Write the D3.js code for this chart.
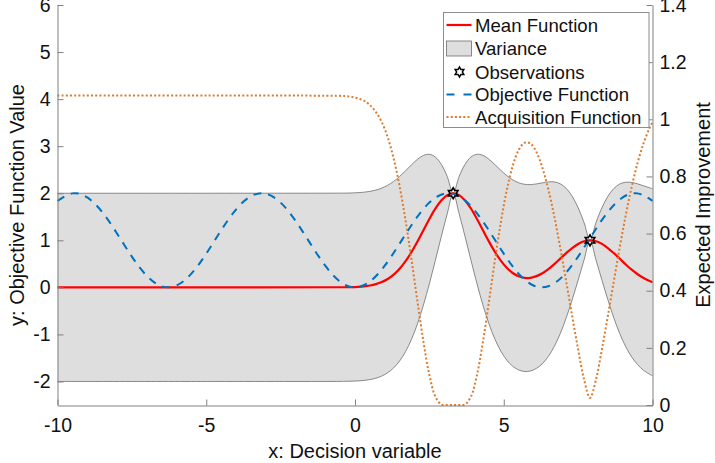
<!DOCTYPE html>
<html>
<head>
<meta charset="utf-8">
<script src="https://cdn.jsdelivr.net/npm/d3@7"></script>
<style>
  body { margin: 0; background: #fff; }
  svg text { font-family: "Liberation Sans", Arial, Helvetica, sans-serif; fill: #111; }
</style>
</head>
<body>
<div id="chart"></div>
<script>
// DATA
// objective function (blue dashed)
var objX = [-10, -9.5, -9, -8.5, -8, -7.5, -7, -6.5, -6, -5.5, -5, -4.5, -4, -3.5, -3, -2.5, -2, -1.5, -1, -0.5,
    0, 0.5, 1, 1.5, 2, 2.5, 3, 3.5, 4, 4.5, 5, 5.5, 6, 6.5, 7, 7.5, 8, 8.5, 9, 9.5, 10];
var objY = [1.839, 1.997, 1.911, 1.602, 1.146, 0.653, 0.246, 0.023, 0.040, 0.291, 0.716, 1.211, 1.654, 1.936, 1.990, 1.801, 1.416, 0.929, 0.460, 0.122,
    0, 0.122, 0.460, 0.929, 1.416, 1.801, 1.990, 1.936, 1.654, 1.211, 0.716, 0.291, 0.040, 0.023, 0.246, 0.653, 1.146, 1.602, 1.911, 1.997, 1.839];

// surrogate model grid (mean, band and acquisition share it)
var gpX = [-10, -5, -0.5, -0.3, -0.1, 0.1, 0.3, 0.5, 0.7, 0.9, 1.1, 1.3, 1.5, 1.7, 1.9, 2.1, 2.3, 2.5, 2.7, 2.9,
    3.1, 3.3, 3.5, 3.7, 3.9, 4.1, 4.3, 4.5, 4.7, 4.9, 5.1, 5.3, 5.5, 5.7, 5.9, 6.1, 6.3, 6.5, 6.7, 6.9,
    7.1, 7.3, 7.5, 7.7, 7.9, 8.1, 8.3, 8.5, 8.7, 8.9, 9.1, 9.3, 9.5, 9.7, 9.9, 10];
var meanY = [0, 0, 0.002, 0.003, 0.006, 0.012, 0.022, 0.040, 0.068, 0.112, 0.178, 0.271, 0.396, 0.556, 0.751, 0.974, 1.213, 1.452, 1.671, 1.846,
    1.960, 2.000, 1.960, 1.846, 1.671, 1.453, 1.215, 0.977, 0.757, 0.567, 0.416, 0.305, 0.234, 0.201, 0.203, 0.238, 0.300, 0.387, 0.493, 0.610,
    0.728, 0.836, 0.923, 0.980, 1.000, 0.980, 0.923, 0.835, 0.726, 0.607, 0.487, 0.375, 0.278, 0.198, 0.135, 0.110];
var upperY = [2, 2, 2.002, 2.003, 2.006, 2.012, 2.022, 2.039, 2.067, 2.109, 2.170, 2.252, 2.356, 2.477, 2.604, 2.721, 2.803, 2.827, 2.770, 2.615,
    2.356, 2.000, 2.356, 2.615, 2.771, 2.828, 2.805, 2.724, 2.610, 2.488, 2.376, 2.285, 2.223, 2.190, 2.184, 2.198, 2.221, 2.241, 2.240, 2.200,
    2.103, 1.936, 1.692, 1.376, 1.000, 1.376, 1.692, 1.935, 2.101, 2.197, 2.234, 2.229, 2.199, 2.158, 2.117, 2.098];
var lowerY = [-2, -2, -1.999, -1.997, -1.994, -1.988, -1.978, -1.960, -1.931, -1.885, -1.814, -1.711, -1.565, -1.365, -1.103, -0.774, -0.377, 0.077, 0.571, 1.077,
    1.564, 2.000, 1.564, 1.077, 0.571, 0.078, -0.376, -0.770, -1.097, -1.354, -1.544, -1.676, -1.755, -1.788, -1.777, -1.722, -1.621, -1.467, -1.254, -0.981,
    -0.647, -0.264, 0.154, 0.584, 1.000, 0.584, 0.154, -0.264, -0.649, -0.984, -1.260, -1.479, -1.643, -1.763, -1.846, -1.878];
var eiY = [1.083, 1.083, 1.082, 1.081, 1.078, 1.073, 1.065, 1.050, 1.026, 0.990, 0.937, 0.862, 0.765, 0.645, 0.508, 0.362, 0.222, 0.105, 0.030, 0.002,
    0, 0, 0, 0.002, 0.030, 0.105, 0.221, 0.360, 0.504, 0.638, 0.751, 0.836, 0.892, 0.918, 0.915, 0.885, 0.830, 0.754, 0.659, 0.550,
    0.432, 0.311, 0.195, 0.089, 0.025, 0.089, 0.195, 0.312, 0.433, 0.552, 0.664, 0.763, 0.848, 0.916, 0.969, 0.990];

// observations
var obsX = [3.3, 7.9];
var obsY = [2, 1];

// ticks
var xTicks = [-10, -5, 0, 5, 10];
var yLeftTicks = [-2, -1, 0, 1, 2, 3, 4, 5, 6];
var yRightTicks = [0, 0.2, 0.4, 0.6, 0.8, 1, 1.2, 1.4];

var legendLabels = ["Mean Function", "Variance", "Observations", "Objective Function", "Acquisition Function"];

// SIZES
var svgWidth = 715, svgHeight = 463;
var plot = { left: 57.5, right: 652.5, top: 5, bottom: 405 };
var axisColor = "#808080";
var blue = "#0072BD", red = "#ff0000", orange = "#DC7A2E";

var svg = d3.select("#chart").append("svg")
    .attr("width", svgWidth)
    .attr("height", svgHeight);

// scales
var x = d3.scaleLinear().domain([-10, 10]).range([plot.left, plot.right]);
var yL = d3.scaleLinear().domain([-2.5, 6]).range([plot.bottom, plot.top]);
var yR = d3.scaleLinear().domain([0, 1.4]).range([plot.bottom, plot.top]);

var gp = gpX.map(function (d, i) {
    return { x: d, m: meanY[i], up: upperY[i], lo: lowerY[i], ei: eiY[i] };
});
var obj = objX.map(function (d, i) { return { x: d, y: objY[i] }; });
var obs = obsX.map(function (d, i) { return { x: d, y: obsY[i] }; });

var smooth = d3.curveCatmullRom.alpha(0.5);

// variance band
svg.append("path")
    .datum(gp)
    .attr("d", d3.area().curve(smooth)
        .x(function (d) { return x(d.x); })
        .y0(function (d) { return yL(d.lo); })
        .y1(function (d) { return yL(d.up); }))
    .attr("fill", "#dedede")
    .attr("stroke", "none");

["up", "lo"].forEach(function (k) {
    svg.append("path")
        .datum(gp)
        .attr("d", d3.line().curve(smooth)
            .x(function (d) { return x(d.x); })
            .y(function (d) { return yL(d[k]); }))
        .attr("fill", "none")
        .attr("stroke", "#6e6e6e")
        .attr("stroke-width", 0.8);
});

// mean function
svg.append("path")
    .datum(gp)
    .attr("d", d3.line().curve(smooth)
        .x(function (d) { return x(d.x); })
        .y(function (d) { return yL(d.m); }))
    .attr("fill", "none")
    .attr("stroke", red)
    .attr("stroke-width", 2.2);

// objective function
svg.append("path")
    .datum(obj)
    .attr("d", d3.line().curve(d3.curveNatural)
        .x(function (d) { return x(d.x); })
        .y(function (d) { return yL(d.y); }))
    .attr("fill", "none")
    .attr("stroke", blue)
    .attr("stroke-width", 2)
    .attr("stroke-dasharray", "8,7");

// hexagram marker
function hexagram(R) {
    var r = R / Math.sqrt(3), pts = [];
    for (var k = 0; k < 12; k++) {
        var a = -Math.PI / 2 + k * Math.PI / 6;
        var rr = k % 2 === 0 ? R : r;
        pts.push([rr * Math.cos(a), rr * Math.sin(a)]);
    }
    return "M" + pts.map(function (p) { return p[0].toFixed(2) + "," + p[1].toFixed(2); }).join("L") + "Z";
}

svg.selectAll(".obs")
    .data(obs)
    .enter().append("path")
    .attr("class", "obs")
    .attr("transform", function (d) { return "translate(" + x(d.x) + "," + yL(d.y) + ")"; })
    .attr("d", hexagram(5.5))
    .attr("fill", "none")
    .attr("stroke", "#000")
    .attr("stroke-width", 1.6);

// acquisition function (right axis)
svg.append("path")
    .datum(gp)
    .attr("d", d3.line().curve(smooth)
        .x(function (d) { return x(d.x); })
        .y(function (d) { return yR(Math.max(0, d.ei)); }))
    .attr("fill", "none")
    .attr("stroke", orange)
    .attr("stroke-width", 2)
    .attr("stroke-dasharray", "2,2.2");

// AXES
function styleAxis(g) {
    g.attr("font-size", 19.5).attr("font-family", null);
    g.selectAll(".domain").attr("stroke", axisColor).attr("stroke-width", 1);
    g.selectAll(".tick line").attr("stroke", axisColor).attr("stroke-width", 1);
    g.selectAll(".tick text").attr("fill", "#111");
}
var fmt = function (d) { return String(+d.toFixed(1)); };

svg.append("g")
    .attr("transform", "translate(0," + (plot.bottom + 0.5) + ")")
    .call(d3.axisBottom(x).tickValues(xTicks).tickFormat(fmt)
        .tickSizeInner(-6).tickSizeOuter(0).tickPadding(13))
    .call(styleAxis);

svg.append("g")
    .attr("transform", "translate(" + plot.left + ",0)")
    .call(d3.axisLeft(yL).tickValues(yLeftTicks).tickFormat(fmt)
        .tickSizeInner(-6).tickSizeOuter(0).tickPadding(7))
    .call(styleAxis);

svg.append("g")
    .attr("transform", "translate(" + plot.right + ",0)")
    .call(d3.axisRight(yR).tickValues(yRightTicks).tickFormat(fmt)
        .tickSizeInner(-6).tickSizeOuter(0).tickPadding(7))
    .call(styleAxis);

// axis titles
svg.append("text")
    .attr("x", (plot.left + plot.right) / 2)
    .attr("y", 458)
    .attr("text-anchor", "middle")
    .attr("font-size", 20)
    .text("x: Decision variable");

svg.append("text")
    .attr("transform", "translate(24," + ((plot.top + plot.bottom) / 2) + ") rotate(-90)")
    .attr("text-anchor", "middle")
    .attr("font-size", 20)
    .text("y: Objective Function Value");

svg.append("text")
    .attr("transform", "translate(710," + ((plot.top + plot.bottom) / 2) + ") rotate(-90)")
    .attr("text-anchor", "middle")
    .attr("font-size", 20)
    .text("Expected Improvement");

// LEGEND
var legend = svg.append("g").attr("transform", "translate(443.5,12.5)");
legend.append("rect")
    .attr("width", 205.5)
    .attr("height", 115)
    .attr("fill", "#fff")
    .attr("stroke", "#8c8c8c")
    .attr("stroke-width", 1);

var rowY = [12.5, 36, 59.5, 82, 104.5];
legendLabels.forEach(function (label, i) {
    var row = legend.append("g").attr("transform", "translate(0," + rowY[i] + ")");
    if (i === 0) {
        row.append("line").attr("x1", 3).attr("x2", 28).attr("stroke", red).attr("stroke-width", 2.2);
    } else if (i === 1) {
        row.append("rect").attr("x", 3).attr("y", -7.5).attr("width", 25).attr("height", 15)
            .attr("fill", "#dedede").attr("stroke", "#6e6e6e").attr("stroke-width", 0.8);
    } else if (i === 2) {
        row.append("path").attr("transform", "translate(16,0)").attr("d", hexagram(5))
            .attr("fill", "none").attr("stroke", "#000").attr("stroke-width", 1.5);
    } else if (i === 3) {
        row.append("line").attr("x1", 3).attr("x2", 28).attr("stroke", blue).attr("stroke-width", 2)
            .attr("stroke-dasharray", "8,9");
    } else {
        row.append("line").attr("x1", 3).attr("x2", 28).attr("stroke", orange).attr("stroke-width", 2)
            .attr("stroke-dasharray", "2,2.2");
    }
    row.append("text")
        .attr("x", 31.5)
        .attr("dy", "0.36em")
        .attr("font-size", 18.6)
        .text(label);
});
</script>
</body>
</html>
